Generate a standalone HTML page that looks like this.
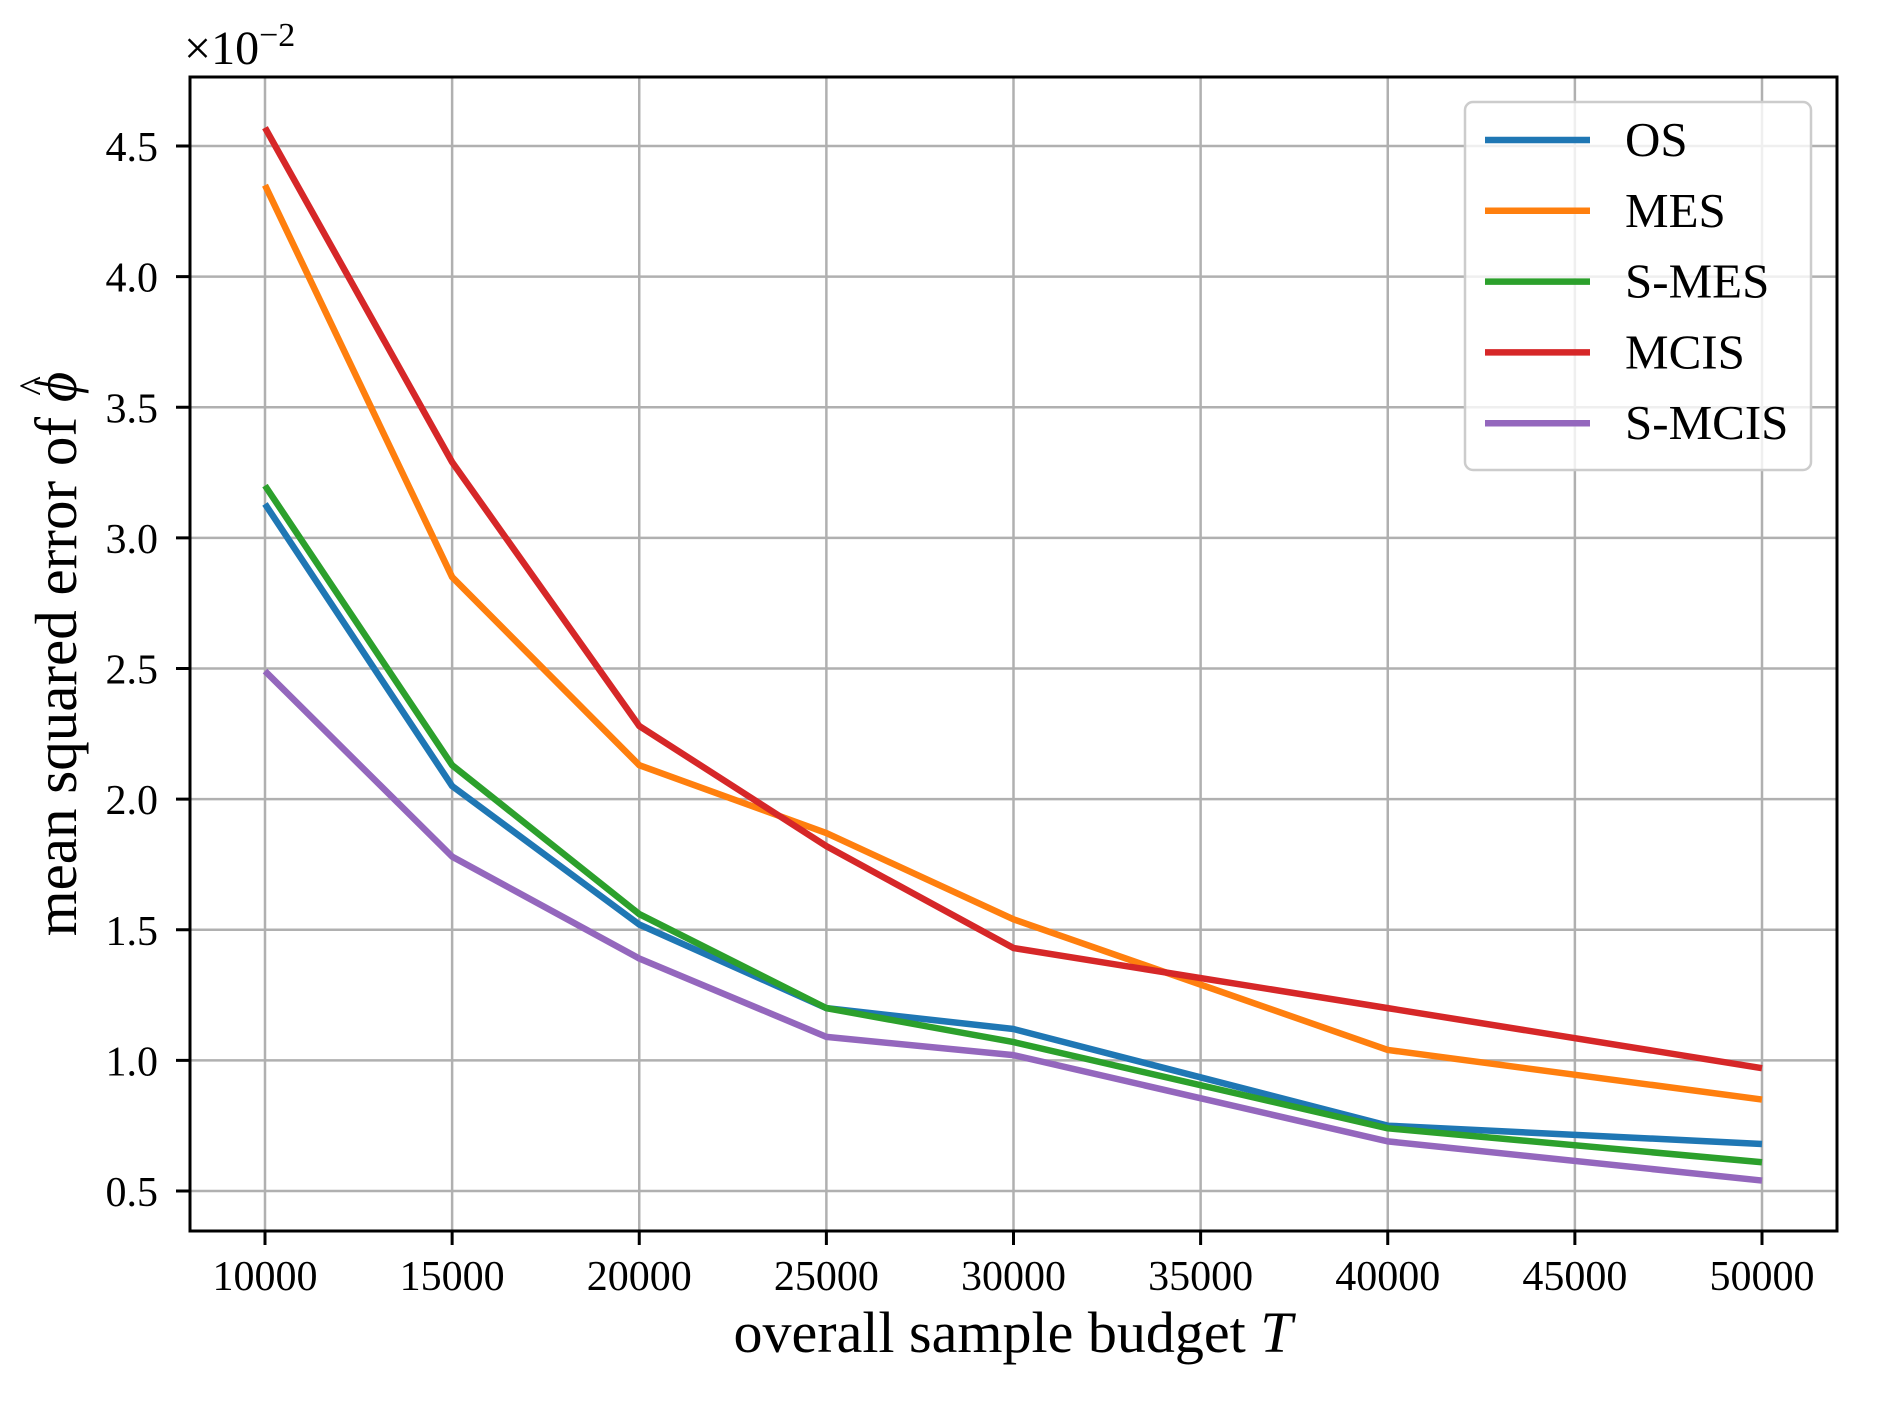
<!DOCTYPE html>
<html><head><meta charset="utf-8"><style>
html,body{margin:0;padding:0;background:#fff}
svg{display:block;font-family:"Liberation Serif",serif}
</style></head><body>
<svg id="chart" width="1878" height="1416" viewBox="0 0 1878 1416">
<g id="grid"></g>
<g id="series"></g>
<rect x="190" y="77" width="1647" height="1154" fill="none" stroke="#000" stroke-width="3"/>
<g id="ticks"></g>
<text x="184" y="64" font-size="48">×10<tspan dy="-18" font-size="34">−2</tspan></text>
<text x="1013" y="1352" font-size="58" text-anchor="middle">overall sample budget <tspan font-style="italic">T</tspan></text>
<text transform="translate(76,654) rotate(-90)" font-size="59" text-anchor="middle">mean squared error of <tspan font-style="italic">ϕ</tspan><tspan dx="-24" dy="-28" font-size="42">^</tspan></text>
<g id="legend">
<rect x="1465" y="102" width="346" height="368" rx="8" fill="#fff" fill-opacity="0.8" stroke="#ccc" stroke-width="2.5"/>
</g>
</svg>
<script>
const xValues=[10000,15000,20000,25000,30000,40000,50000];
const xTicks=[10000,15000,20000,25000,30000,35000,40000,45000,50000];
const yTicks=[0.5,1.0,1.5,2.0,2.5,3.0,3.5,4.0,4.5];
const seriesNames=["OS","MES","S-MES","MCIS","S-MCIS"];
const seriesColors=["#1f77b4","#ff7f0e","#2ca02c","#d62728","#9467bd"];
const osValues=[3.13,2.05,1.52,1.20,1.12,0.75,0.68];
const mesValues=[4.35,2.85,2.13,1.87,1.54,1.04,0.85];
const smesValues=[3.20,2.13,1.56,1.20,1.07,0.74,0.61];
const mcisValues=[4.57,3.29,2.28,1.82,1.43,1.20,0.97];
const smcisValues=[2.49,1.78,1.39,1.09,1.02,0.69,0.54];
const allSeries=[osValues,mesValues,smesValues,mcisValues,smcisValues];
const NS="http://www.w3.org/2000/svg";
function xs(v){return 265+(v-10000)*(1762-265)/40000;}
function ys(v){return 146+(4.5-v)*261.25;}
function mk(tag,attrs,parent){const e=document.createElementNS(NS,tag);for(const k in attrs)e.setAttribute(k,attrs[k]);parent.appendChild(e);return e;}
const grid=document.getElementById('grid'),ticks=document.getElementById('ticks'),series=document.getElementById('series'),legend=document.getElementById('legend');
xTicks.forEach(t=>{
 const g=mk('line',{x1:xs(t),x2:xs(t),y1:77,y2:1231,stroke:'#b0b0b0','stroke-width':2.5},grid);
 
 
 const tk=mk('line',{x1:xs(t),x2:xs(t),y1:1231,y2:1245,stroke:'#000','stroke-width':3},ticks);
 
 
 const l=mk('text',{x:xs(t),y:1290,'font-size':42,'text-anchor':'middle'},ticks);
 l.textContent=t;
 
 
});
yTicks.forEach(t=>{
 const g=mk('line',{x1:190,x2:1837,y1:ys(t),y2:ys(t),stroke:'#b0b0b0','stroke-width':2.5},grid);
 
 
 const tk=mk('line',{x1:176,x2:190,y1:ys(t),y2:ys(t),stroke:'#000','stroke-width':3},ticks);
 
 
 const l=mk('text',{x:158,y:ys(t)+15,'font-size':42,'text-anchor':'end'},ticks);
 l.textContent=t.toFixed(1);
 
 
});
allSeries.forEach((vals,i)=>{
 const p=mk('polyline',{points:vals.map((v,j)=>xs(xValues[j])+','+ys(v)).join(' '),fill:'none',stroke:seriesColors[i],'stroke-width':6.5,'stroke-linejoin':'round'},series);
 
 
 const y=140+i*70.8;
 const ll=mk('line',{x1:1485,x2:1590,y1:y,y2:y,stroke:seriesColors[i],'stroke-width':6.5},legend);
 
 
 const lt=mk('text',{x:1625,y:y+16,'font-size':49},legend);
 lt.textContent=seriesNames[i];
 
 
});
</script>
</body></html>
